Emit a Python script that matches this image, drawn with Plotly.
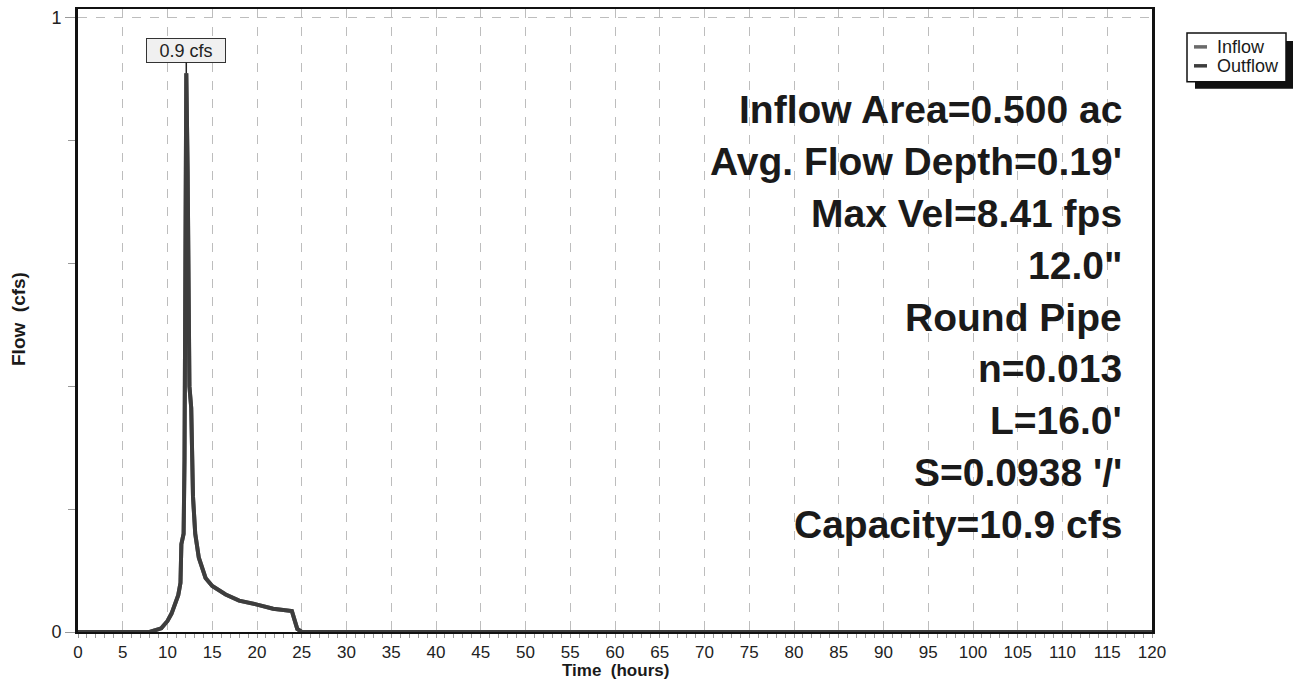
import plotly.graph_objects as go

# Hydrograph for the pipe reach: time in hours, flow in cfs
time_hr = [0, 8.0, 9.3, 10.0, 10.45, 10.85, 11.2, 11.45, 11.55, 11.8, 11.9, 12.0,
           12.1, 12.25, 12.45, 12.65, 12.85, 13.1, 13.5, 14.25, 15.0, 16.5, 18.0,
           19.9, 21.8, 23.9, 24.5, 25.0, 120]
inflow_cfs = [0, 0, 0.006, 0.018, 0.03, 0.045, 0.06, 0.08, 0.143, 0.16, 0.28, 0.60,
              0.91, 0.75, 0.40, 0.365, 0.22, 0.16, 0.121, 0.088, 0.075, 0.061, 0.051,
              0.045, 0.038, 0.034, 0.005, 0, 0]
outflow_cfs = [0, 0, 0.006, 0.018, 0.03, 0.045, 0.06, 0.08, 0.143, 0.16, 0.28, 0.60,
               0.91, 0.75, 0.40, 0.365, 0.22, 0.16, 0.121, 0.088, 0.075, 0.061, 0.051,
               0.045, 0.038, 0.034, 0.005, 0, 0]

peak_time = 12.1
peak_flow = 0.91
peak_label = "0.9 cfs"

x_ticks = list(range(0, 121, 5))
y_ticks = [0, 1]
y_minor_ticks = [0.2, 0.4, 0.6, 0.8]

info_lines = ["Inflow Area=0.500 ac", "Avg. Flow Depth=0.19'", "Max Vel=8.41 fps",
              '12.0"', "Round Pipe", "n=0.013", "L=16.0'", "S=0.0938 '/'",
              "Capacity=10.9 cfs"]

series_names = ["Inflow", "Outflow"]
series_colors = ["#6a6a6a", "#3d3d3d"]

W, H = 1294, 683
X0, X1 = 78, 1152   # plot area, pixels
Y0, Y1 = 7, 632

def px(x):
    return (x - X0) / (X1 - X0)

def py(y):
    return (Y1 - y) / (Y1 - Y0)

FONT = "Liberation Sans, Arial, sans-serif"

fig = go.Figure()
for name, ys, col in zip(series_names, [inflow_cfs, outflow_cfs], series_colors):
    fig.add_trace(go.Scatter(x=time_hr, y=ys, mode="lines", name=name,
                             line=dict(color=col, width=4), showlegend=False))

annotations = []

# peak flow callout
annotations.append(dict(x=peak_time, y=peak_flow, xref="x", yref="y", text=peak_label,
                        showarrow=True, arrowhead=0, arrowwidth=1.5, arrowcolor="#222",
                        ax=0, ay=-23, font=dict(family=FONT, size=18, color="#222"),
                        bgcolor="#f0f0f0", bordercolor="#333", borderwidth=1,
                        borderpad=2, width=74, height=19))

# reach summary text block
for i, line in enumerate(info_lines):
    annotations.append(dict(x=px(1124), y=py(108 + 52 * i), xref="paper", yref="paper",
                            text=line, showarrow=False, xanchor="right", yanchor="middle",
                            font=dict(family=FONT, size=39, color="#1a1a1a", weight="bold")))

# axis titles
annotations.append(dict(x=px(615), y=py(671), xref="paper", yref="paper",
                        text="Time  (hours)", showarrow=False, yanchor="middle",
                        font=dict(family=FONT, size=17, color="#1a1a1a", weight="bold")))
annotations.append(dict(x=px(18), y=py(318), xref="paper", yref="paper",
                        text="Flow  (cfs)", showarrow=False, textangle=-90,
                        xanchor="center", yanchor="middle",
                        font=dict(family=FONT, size=19, color="#1a1a1a", weight="bold")))

# legend with drop shadow
shapes = [
    dict(type="rect", xref="paper", yref="paper", x0=px(1195), x1=px(1293),
         y0=py(87), y1=py(39), fillcolor="#111", line=dict(width=0)),
    dict(type="rect", xref="paper", yref="paper", x0=px(1187), x1=px(1286),
         y0=py(80), y1=py(31), fillcolor="white", line=dict(color="#111", width=1.5)),
]
for i, (name, col) in enumerate(zip(series_names, series_colors)):
    yc = 45 + 19 * i
    shapes.append(dict(type="line", xref="paper", yref="paper", x0=px(1194), x1=px(1207),
                       y0=py(yc), y1=py(yc), line=dict(color=col, width=3.5)))
    annotations.append(dict(x=px(1215), y=py(yc), xref="paper", yref="paper", text=name,
                            showarrow=False, xanchor="left", yanchor="middle",
                            font=dict(family=FONT, size=18, color="#1a1a1a")))

fig.update_layout(
    width=W, height=H,
    margin=dict(l=X0, r=W - X1, t=Y0, b=H - Y1, pad=0),
    paper_bgcolor="white", plot_bgcolor="white",
    font=dict(family=FONT, size=18, color="#1a1a1a"),
    annotations=annotations, shapes=shapes,
    showlegend=False,
)
fig.update_xaxes(range=[0, 120], tickvals=x_ticks, ticktext=[str(v) for v in x_ticks],
                 ticks="outside", ticklen=4, tickwidth=1, tickcolor="#999",
                 showgrid=True, gridcolor="#bdbdbd", gridwidth=1, griddash="dash",
                 showline=True, linecolor="#111", linewidth=2, mirror=True,
                 zeroline=False, tickfont=dict(size=17, color="#222"),
                 minor=dict(dtick=1, ticks="outside", ticklen=4, tickcolor="#999",
                            showgrid=False))
fig.update_yaxes(range=[0, (Y1 - Y0) / (Y1 - 16)], tickvals=y_ticks,
                 ticktext=[str(v) for v in y_ticks],
                 ticks="outside", ticklen=10, tickwidth=1, tickcolor="#999",
                 showgrid=True, gridcolor="#bdbdbd", gridwidth=1, griddash="dash",
                 showline=True, linecolor="#111", linewidth=3, mirror=True,
                 zeroline=False, tickfont=dict(size=18, color="#222"),
                 minor=dict(tickvals=y_minor_ticks, ticks="outside", ticklen=7,
                            tickcolor="#999", showgrid=False))

fig.write_html("out.html")
